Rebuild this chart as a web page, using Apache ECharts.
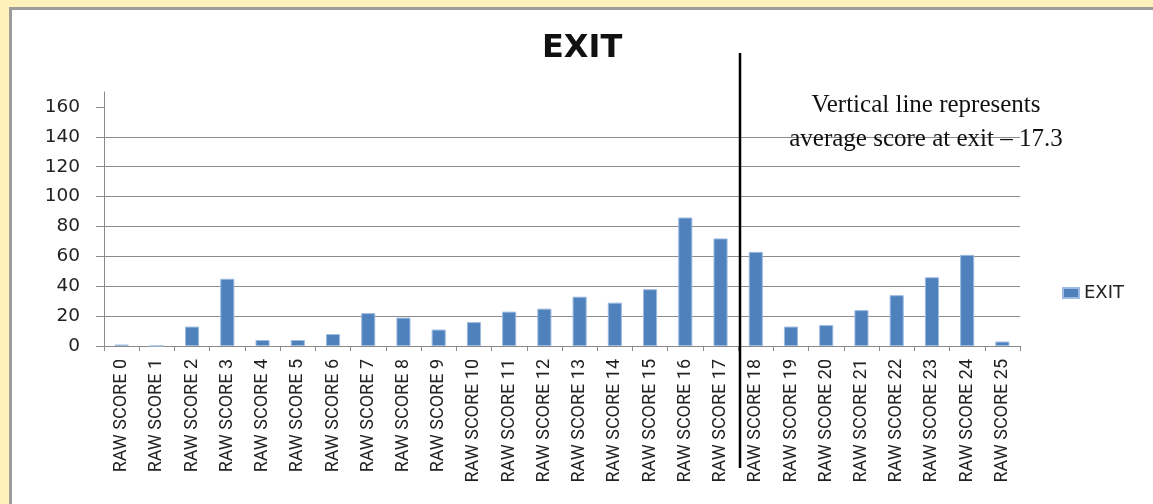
<!DOCTYPE html>
<html>
<head>
<meta charset="utf-8">
<script src="https://cdn.jsdelivr.net/npm/echarts@6/dist/echarts.min.js"></script>
<style>
  html, body { margin: 0; padding: 0; }
  #wrap { position: relative; width: 1153px; height: 504px; background: #FFF1BA; overflow: hidden; }
  #paper { position: absolute; left: 9px; top: 7px; width: 1160px; height: 520px; background: #ffffff;
           border-left: 3px solid #9c9c9c; border-top: 3px solid #9c9c9c; }
  #chart { position: absolute; left: 0; top: 0; width: 1153px; height: 504px; }
</style>
</head>
<body>
<div id="wrap"><div id="paper"></div><div id="chart"></div></div>
<script>
const categories = ['RAW SCORE 0','RAW SCORE 1','RAW SCORE 2','RAW SCORE 3','RAW SCORE 4','RAW SCORE 5','RAW SCORE 6','RAW SCORE 7','RAW SCORE 8','RAW SCORE 9','RAW SCORE 10','RAW SCORE 11','RAW SCORE 12','RAW SCORE 13','RAW SCORE 14','RAW SCORE 15','RAW SCORE 16','RAW SCORE 17','RAW SCORE 18','RAW SCORE 19','RAW SCORE 20','RAW SCORE 21','RAW SCORE 22','RAW SCORE 23','RAW SCORE 24','RAW SCORE 25'];
const exitValues = [1, 0, 13, 45, 4, 4, 8, 22, 19, 11, 16, 23, 25, 33, 29, 38, 86, 72, 63, 13, 14, 24, 34, 46, 61, 3];
const yTicks = [0, 20, 40, 60, 80, 100, 120, 140, 160];
const seriesName = 'EXIT';
const chartTitle = 'EXIT';
const noteLines = ['Vertical line represents', 'average score at exit \u2013 17.3'];
const avgLinePos = 17.55; // position drawn in the reference (category index space)

const chart = echarts.init(document.getElementById('chart'), null, { renderer: 'canvas' });
const option = {
  animation: false,
  backgroundColor: 'transparent',
  title: {
    text: chartTitle, left: 537, top: 28,
    textStyle: { fontFamily: 'DejaVu Sans', fontWeight: 'bold', fontSize: 32, color: '#111' }
  },
  legend: {
    data: [seriesName], orient: 'vertical', left: 1057, top: 279,
    icon: 'rect', itemWidth: 16, itemHeight: 10, itemGap: 8,
    textStyle: { fontFamily: 'DejaVu Sans', fontSize: 18, color: '#222' }
  },
  grid: { left: 104, right: 133, top: 92, bottom: 158, containLabel: false },
  xAxis: {
    type: 'category', data: categories, boundaryGap: true,
    axisLine: { lineStyle: { color: '#8a8a8a', width: 1 } },
    axisTick: { show: true, alignWithLabel: false, length: 5, lineStyle: { color: '#8a8a8a' } },
    axisLabel: { rotate: 90, margin: 13, interval: 0, fontFamily: 'Roboto', fontSize: 18, color: '#222' }
  },
  yAxis: {
    type: 'value', min: 0, max: 170, interval: 20,
    axisLine: { show: true, lineStyle: { color: '#8a8a8a', width: 1 } },
    axisTick: { show: true, inside: false, length: 8, customValues: yTicks, lineStyle: { color: '#8a8a8a' } },
    axisLabel: { margin: 24, customValues: yTicks, fontFamily: 'DejaVu Sans', fontSize: 18.5, color: '#222' },
    splitLine: { show: true, showMaxLine: false, lineStyle: { color: '#8c8c8c', width: 1 } }
  },
  series: [{
    name: seriesName, type: 'bar', data: exitValues, barWidth: '40%',
    itemStyle: { color: '#4F81BD', borderColor: '#9dbbe0', borderWidth: 1 }
  }]
};
chart.setOption(option);

const p17 = chart.convertToPixel({ xAxisIndex: 0 }, categories[17]);
const p18 = chart.convertToPixel({ xAxisIndex: 0 }, categories[18]);
const lineX = Math.round(p17 + (avgLinePos - 17) * (p18 - p17));
chart.setOption({
  graphic: [
    { type: 'line', shape: { x1: lineX, y1: 53, x2: lineX, y2: 468 }, style: { stroke: '#000', lineWidth: 2.5 }, z: 100 },
    { type: 'text', x: 926, y: 88, z: 100,
      style: { text: noteLines.join('\n'), fontFamily: 'Liberation Serif', fontSize: 25, lineHeight: 34, fill: '#111', align: 'center', verticalAlign: 'top' } }
  ]
});
</script>
</body>
</html>
